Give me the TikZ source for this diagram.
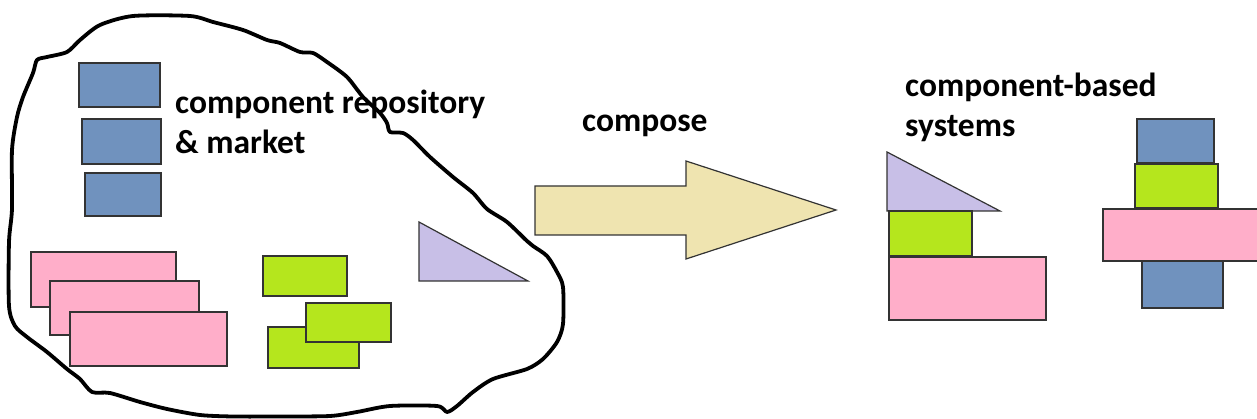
\documentclass[tikz,border=0pt]{standalone}
\usepackage{fontspec}
\setmainfont{Carlito}
\definecolor{cblue}{HTML}{7092BE}
\definecolor{cpink}{HTML}{FFAEC9}
\definecolor{cgreen}{HTML}{B5E61D}
\definecolor{cpurple}{HTML}{C8BFE7}
\definecolor{ctan}{HTML}{EFE4B0}
\definecolor{cedge}{HTML}{333333}
\begin{document}
\begin{tikzpicture}[x=1pt,y=-1pt,
  piece/.style={draw=cedge,line width=1.2pt,line join=miter},
  txt/.style={inner sep=0pt,anchor=base west,font=\bfseries\fontsize{33.5}{40}\selectfont,align=left}]
\useasboundingbox (0,0) rectangle (1257,419);
% blob outline
\draw[line width=3.8pt,line join=round] plot[smooth cycle,tension=0.45] coordinates {
(37,60) (47,57) (67,52) (80,40) (100,25) (133,16) (190,16) (213,22) (243,30) (267,40)
(280,43) (300,52) (313,53) (327,62) (347,77) (363,97) (380,113) (387,123) (390,132)
(403,133) (413,140) (430,157) (453,177) (473,193) (487,209) (507,222) (527,241) (533,246)
(547,256) (557,272) (563,287) (563,324) (557,342) (543,359) (527,369) (493,379) (473,392)
(457,406) (447,412) (437,406) (390,406) (357,412) (330,416) (280,416.5) (233,416.5) (200,415)
(167,409) (140,402) (110,393) (92,392) (80,379) (67,369) (47,352) (27,337) (15,326)
(9,306) (9,242) (12,209) (12,150) (17,117) (23,97) (33,73)};
% repository contents
\path[piece,fill=cblue] (79,63) rectangle (160,107);
\path[piece,fill=cblue] (82,119) rectangle (161,164);
\path[piece,fill=cblue] (85,173) rectangle (161,216);
\path[piece,fill=cpink] (31,252) rectangle (176,307);
\path[piece,fill=cpink] (50,281) rectangle (199,335);
\path[piece,fill=cpink] (70,312) rectangle (227,366);
\path[piece,fill=cgreen] (263,256) rectangle (347,296);
\path[piece,fill=cgreen] (268,327) rectangle (359,368);
\path[piece,fill=cgreen] (306,303) rectangle (391,342);
\path[piece,fill=cpurple] (419,222) -- (419,281) -- (528,281) -- cycle;
\node[txt] (repo) at (175,154) {component repository\\\& market};
% compose arrow
\path[piece,fill=ctan] (535,186) -- (686,186) -- (686,161) -- (836,210) -- (686,259) -- (686,235) -- (535,235) -- cycle;
\node[txt] (compose) at (582,131.5) {compose};
% component-based systems
\node[txt] (cbs) at (905,137) {component-based\\systems};
\path[piece,fill=cpurple] (887,152) -- (887,211) -- (1000,211) -- cycle;
\path[piece,fill=cgreen] (889,211) rectangle (972,256);
\path[piece,fill=cpink] (889,257) rectangle (1046,320);
\path[piece,fill=cblue] (1142,261) rectangle (1223,308);
\path[piece,fill=cblue] (1137,119) rectangle (1214,163);
\path[piece,fill=cgreen] (1135,164) rectangle (1218,208);
\path[piece,fill=cpink] (1103,209) rectangle (1262,261);
\end{tikzpicture}
\end{document}
